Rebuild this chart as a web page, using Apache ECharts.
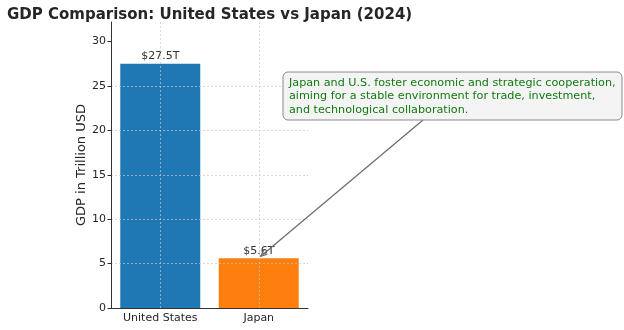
<!DOCTYPE html>
<html>
<head>
<meta charset="utf-8">
<script src="https://cdn.jsdelivr.net/npm/echarts@6/dist/echarts.min.js"></script>
<style>
  html, body { margin: 0; padding: 0; background: #fff; }
  #chart { width: 624px; height: 330px; }
</style>
</head>
<body>
<div id="chart"></div>
<script>
// Nominal GDP, 2024, trillions of US dollars
const countries = ['United States', 'Japan'];
const gdpTrillions = [27.5, 5.6];
const barColors = ['#1f77b4', '#ff7f0e'];
const yTicks = [0, 5, 10, 15, 20, 25, 30];
const noteLines = [
  'Japan and U.S. foster economic and strategic cooperation,',
  'aiming for a stable environment for trade, investment,',
  'and technological collaboration.'
];
const noteTarget = ['Japan', 5.6];

const FONT = 'DejaVu Sans';
const chart = echarts.init(document.getElementById('chart'), null, { renderer: 'canvas' });

// dotted grid drawn on top of the bars
const gridLine = { show: true, lineStyle: { color: 'rgba(200,200,200,0.85)', type: [2, 2], width: 0.8 } };

chart.setOption({
  animation: false,
  textStyle: { fontFamily: FONT },
  title: {
    text: 'GDP Comparison: United States vs Japan (2024)',
    left: 2, top: 3,
    textStyle: { fontFamily: FONT, fontWeight: 'bold', fontSize: 15, color: '#262626' }
  },
  grid: { left: 111, right: 316, top: 22, bottom: 22, containLabel: false },
  xAxis: {
    type: 'category',
    z: 5,
    data: countries,
    axisLine: { lineStyle: { color: '#333', width: 1 } },
    axisTick: { alignWithLabel: true, interval: 0, length: 3.5, lineStyle: { color: '#333' } },
    axisLabel: { interval: 0, color: '#262626', fontSize: 11, margin: 5, fontFamily: FONT },
    splitLine: Object.assign({ alignWithLabel: true, interval: 0 }, gridLine)
  },
  yAxis: {
    type: 'value',
    z: 5,
    min: 0, max: 32.2, interval: 5,
    name: 'GDP in Trillion USD',
    nameLocation: 'middle', nameGap: 22,
    nameTextStyle: { fontSize: 13, color: '#262626', fontFamily: FONT },
    axisLine: { show: true, lineStyle: { color: '#333', width: 1 } },
    axisTick: { show: true, length: 3.5, lineStyle: { color: '#333' }, customValues: yTicks },
    axisLabel: { color: '#262626', fontSize: 11, margin: 5, fontFamily: FONT, customValues: yTicks },
    splitLine: Object.assign({ showMaxLine: false, showMinLine: false }, gridLine)
  },
  series: [{
    type: 'bar',
    z: 2,
    barWidth: 80,
    data: gdpTrillions.map((v, i) => ({ value: v, itemStyle: { color: barColors[i] } })),
    label: {
      show: true, position: 'top', distance: 2,
      formatter: p => '$' + p.value.toFixed(1) + 'T',
      color: '#333', fontSize: 11, fontFamily: FONT
    }
  }]
});

// Callout box with a leader arrow pointing at Japan's bar
function drawNote() {
  const tip = chart.convertToPixel({ gridIndex: 0 }, noteTarget);
  const boxX = 283, boxY = 72, boxW = 339, boxH = 48;
  const start = [423, boxY + boxH];
  const end = [tip[0] + 2, tip[1] - 2];
  const ang = Math.atan2(end[1] - start[1], end[0] - start[0]);
  const head = 7, spread = 0.4;
  const h1 = [end[0] - head * Math.cos(ang - spread), end[1] - head * Math.sin(ang - spread)];
  const h2 = [end[0] - head * Math.cos(ang + spread), end[1] - head * Math.sin(ang + spread)];
  const arrowStyle = { stroke: '#6e6e6e', lineWidth: 1.3 };
  chart.setOption({
    graphic: [
      { type: 'line', shape: { x1: start[0], y1: start[1], x2: end[0], y2: end[1] }, style: arrowStyle, z: 10 },
      { type: 'polyline', shape: { points: [h1, end, h2] }, style: Object.assign({ fill: null }, arrowStyle), z: 10 },
      { type: 'rect', shape: { x: boxX, y: boxY, width: boxW, height: boxH, r: 5 },
        style: { fill: '#f4f4f4', stroke: '#8a8a8a', lineWidth: 1 }, z: 11 },
      { type: 'text', x: boxX + 6, y: boxY + 4, z: 12,
        style: { text: noteLines.join('\n'), fill: '#117a11', font: '11.2px "DejaVu Sans"', lineHeight: 13.5 } }
    ]
  });
}
drawNote();
</script>
</body>
</html>
